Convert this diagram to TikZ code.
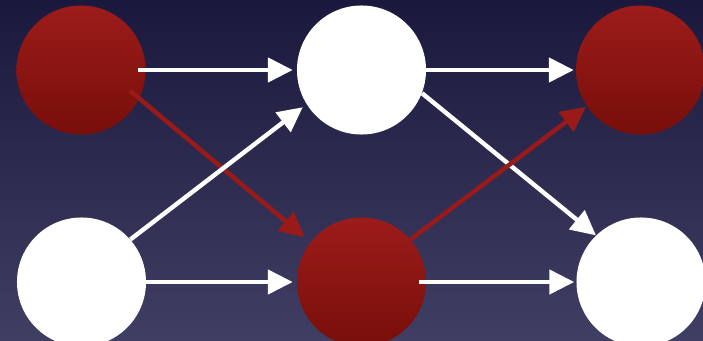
\documentclass[tikz,border=0pt]{standalone}
\usepackage{tikz}
\usetikzlibrary{arrows.meta, positioning, calc}

\definecolor{skytop}{HTML}{1A193D}
\definecolor{skybottom}{HTML}{403F63}
\definecolor{ballred}{HTML}{9C1C1A}
\definecolor{balldark}{HTML}{780E0A}
\definecolor{arrowred}{HTML}{9A1A1A}

\begin{document}
\begin{tikzpicture}[
    x=0.025cm, y=-0.025cm,
    ball/.style={circle, minimum size=3.225cm, inner sep=0pt, draw=none},
    redball/.style={ball, top color=ballred, bottom color=balldark},
    whiteball/.style={ball, fill=white},
    link/.style={line width=0.11cm, -{Triangle[length=0.62cm, width=0.6cm]}},
    whitelink/.style={link, color=white},
    redlink/.style={link, color=arrowred}
]
    \useasboundingbox (0,0) rectangle (703,341);
    \clip (0,0) rectangle (703,341);
    \fill[top color=skytop, bottom color=skybottom] (0,0) rectangle (703,341);

    % layer 1 -> layer 2 -> layer 3
    \node[redball]   (in1)  at (81,70)     {};
    \node[whiteball] (in2)  at (81.5,282)  {};
    \node[whiteball] (mid1) at (361.5,70)  {};
    \node[redball]   (mid2) at (361.5,282) {};
    \node[redball]   (out1) at (640.5,70)  {};
    \node[whiteball] (out2) at (641,282)   {};

    \draw[whitelink, shorten <=-0.2cm, shorten >=0.1cm] (in1.east) -- (mid1.west);
    \draw[redlink, shorten <=-0.3cm, shorten >=0.19cm] (in1.-26) -- (mid2.142);
    \draw[whitelink, shorten >=0.12cm] (in2.41) -- (mid1.212);
    \draw[whitelink, shorten >=0.1cm] (in2.east) -- (mid2.west);

    \draw[whitelink, shorten >=0.05cm] (mid1.east) -- (out1.west);
    \draw[whitelink] (mid1.-21) -- (out2.134);
    \draw[redlink, shorten >=0.03cm] (mid2.41) -- (out1.214);
    \draw[whitelink, shorten <=-0.175cm, shorten >=0.05cm] (mid2.east) -- (out2.west);
\end{tikzpicture}
\end{document}
